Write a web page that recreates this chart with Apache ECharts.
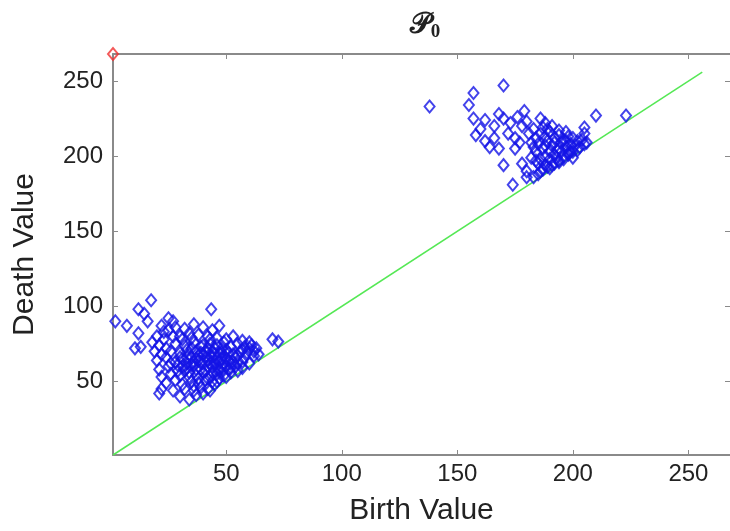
<!DOCTYPE html>
<html>
<head>
<meta charset="utf-8">
<script src="https://cdn.jsdelivr.net/npm/echarts@6/dist/echarts.min.js"></script>
<style>
  html, body { margin: 0; padding: 0; background: #fff; }
  #main { width: 730px; height: 531px; }
</style>
</head>
<body>
<div id="main"></div>
<script>
// cluster of short-lived components (birth, death)
var lowCluster = [
  [2, 90], [7, 87], [12, 98], [17.5, 104], [14.5, 95], [16, 90], [12, 82], [13, 73], [10.5, 72],
  [25, 92], [43.5, 98], [70, 78], [72.5, 76.5],
  [22, 87], [25, 84], [28, 86], [32, 85], [36, 88], [40, 86], [44, 84], [47, 87], [34, 82], [30, 80],
  [20, 80], [23, 78], [27, 80], [31, 78], [35, 79], [38, 81], [42, 80], [46, 79], [50, 78], [53, 80], [57, 77], [60, 76],
  [21, 74], [24, 72], [28, 75], [32, 74], [36, 76], [39, 73], [43, 75], [46, 74], [49, 76], [52, 73], [55, 75], [58, 73], [61, 74], [63, 72],
  [19, 70], [22, 68], [26, 70], [30, 69], [33, 71], [37, 70], [40, 68], [44, 70], [47, 69], [50, 71], [53, 68], [56, 70], [59, 69], [62, 67],
  [20, 64], [24, 66], [28, 63], [31, 65], [35, 66], [38, 64], [41, 66], [45, 63], [48, 65], [51, 64], [54, 66], [57, 63], [60, 62],
  [21, 58], [25, 60], [29, 61], [33, 59], [36, 61], [39, 58], [42, 60], [45, 61], [48, 59], [51, 58], [54, 60], [57, 59],
  [22, 53], [26, 55], [30, 54], [34, 56], [37, 54], [40, 56], [43, 53], [46, 55], [49, 54], [52, 56], [55, 57],
  [24, 49], [28, 51], [31, 48], [35, 50], [38, 49], [41, 51], [44, 50], [47, 52], [50, 53],
  [22, 45], [27, 44], [32, 45], [36, 44], [39, 46], [42, 45], [45, 48],
  [21, 42], [30, 40], [34, 38], [37, 41], [40, 42], [43, 44],
  [38, 67], [40, 62], [42, 72], [44, 66], [46, 58], [43, 62], [41, 57], [39, 69], [45, 68], [47, 63],
  [49, 67], [36, 63], [34, 68], [37, 58], [35, 72], [33, 62], [30, 66], [32, 57], [40, 74], [43, 78],
  [48, 72], [52, 62], [50, 60], [44, 56], [42, 52], [38, 52], [36, 47], [34, 53], [46, 50], [48, 56],
  [18, 76], [26, 62], [29, 57], [64, 68], [62, 70], [58, 66], [55, 62], [60, 72], [23, 83], [27, 90],
  [39, 63], [41, 70], [43, 67], [45, 72], [47, 58], [49, 62], [51, 69], [53, 63], [55, 67], [57, 71],
  [37, 65], [35, 61], [33, 66], [31, 60], [42, 64], [44, 60], [46, 66], [48, 69], [50, 65], [52, 59]
];

// cluster of long-lived components
var highCluster = [
  [138, 233], [157, 242], [170, 247], [155, 234], [157, 225], [162, 224], [158, 214], [162, 210], [164, 206],
  [170, 194], [174, 181], [160, 218], [166, 220], [168, 228], [170, 225], [173, 222], [176, 226], [172, 215],
  [175, 212], [166, 212], [168, 205], [178, 220], [180, 223], [183, 218], [179, 230], [186, 225], [188, 222],
  [184, 212], [185, 188], [180, 190], [178, 195], [182, 199], [210, 227], [223, 227], [205, 219], [205, 215],
  [175, 205], [177, 209],
  [185, 208], [187, 205], [189, 210], [191, 207], [193, 204], [195, 209], [197, 206], [199, 203], [201, 207],
  [188, 200], [190, 198], [192, 201], [194, 197], [196, 200], [198, 202], [200, 199], [202, 204],
  [186, 215], [188, 213], [190, 216], [192, 212], [194, 214], [196, 211], [198, 213],
  [184, 203], [186, 198], [188, 194], [190, 192], [192, 195], [194, 196], [196, 198], [198, 201], [200, 203],
  [203, 206], [205, 208], [183, 206], [187, 191], [189, 193], [191, 194], [193, 199], [195, 203], [197, 210],
  [199, 208], [185, 195], [182, 209], [181, 215], [200, 212], [202, 210], [204, 211], [206, 209],
  [189, 218], [191, 220], [194, 217], [197, 216], [187, 219], [184, 197], [186, 190], [183, 186], [180, 186],
  [194, 205], [188, 207], [190, 203], [192, 209]
];

// the component that never dies, drawn at the top of the plot
var essential = [[1, 268]];
var diagonal = [[1, 1], [256, 256]];
var tickValues = [50, 100, 150, 200, 250];
var axisMin = 1, axisMax = 268;

var chart = echarts.init(document.getElementById('main'));

var axisGrey = '#8a8a8a';
var labelFont = { fontFamily: 'Liberation Sans', fontSize: 24, color: '#222' };

function boxAxis(extra) {
  return Object.assign({
    type: 'value',
    min: axisMin,
    max: axisMax,
    splitLine: { show: false },
    axisLine: { show: true, lineStyle: { color: axisGrey, width: 2 } },
    axisTick: { show: true, inside: true, length: 5, customValues: tickValues, lineStyle: { color: axisGrey, width: 1 } },
    axisLabel: { show: false }
  }, extra);
}

chart.setOption({
  backgroundColor: '#fff',
  animation: false,
  title: {
    text: '{p|𝒫}{s|0}',
    left: 420,
    top: 4,
    textAlign: 'center',
    textStyle: {
      rich: {
        p: { fontFamily: 'DejaVu Serif', fontSize: 29, color: '#222' },
        s: { fontFamily: 'Liberation Serif', fontSize: 19, color: '#222', padding: [14, 0, 0, 0] }
      }
    }
  },
  grid: { left: 113, top: 54, right: -4, bottom: 73 },
  xAxis: [
    boxAxis({
      position: 'bottom',
      name: 'Birth Value',
      nameLocation: 'middle',
      nameGap: 41,
      nameTextStyle: { fontFamily: 'Liberation Sans', fontSize: 30, color: '#222' },
      axisLabel: Object.assign({ show: true, margin: 7, customValues: tickValues }, labelFont)
    }),
    boxAxis({ position: 'top' })
  ],
  yAxis: [
    boxAxis({
      position: 'left',
      name: 'Death Value',
      nameLocation: 'middle',
      nameGap: 73,
      nameTextStyle: { fontFamily: 'Liberation Sans', fontSize: 30, color: '#222' },
      axisLabel: Object.assign({ show: true, margin: 10, customValues: tickValues }, labelFont)
    }),
    // right edge of the box falls just outside the picture; only its ticks show
    boxAxis({ position: 'right', axisLine: { show: false } })
  ],
  series: [
    {
      type: 'line',
      data: diagonal,
      symbol: 'none',
      lineStyle: { color: '#55e855', width: 1.5 },
      z: 1
    },
    {
      type: 'scatter',
      data: lowCluster.concat(highCluster),
      symbol: 'diamond',
      symbolSize: [10, 12],
      itemStyle: { color: 'transparent', borderColor: '#1414e6', borderWidth: 2 },
      z: 2
    },
    {
      type: 'scatter',
      data: essential,
      symbol: 'diamond',
      symbolSize: [10, 12],
      clip: false,
      itemStyle: { color: 'transparent', borderColor: '#f03030', borderWidth: 2 },
      z: 3
    }
  ]
});
</script>
</body>
</html>
